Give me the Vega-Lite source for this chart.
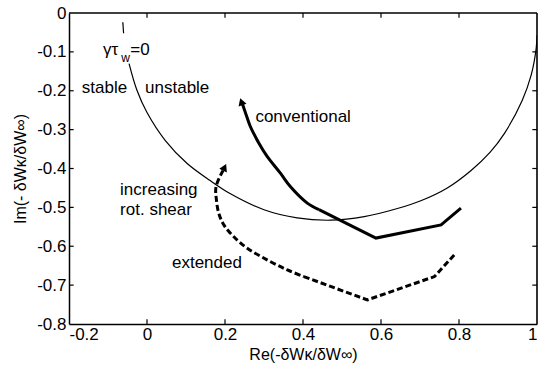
{
  "$schema": "https://vega.github.io/schema/vega-lite/v6.json",
  "width": 468,
  "height": 311,
  "autosize": "none",
  "padding": {"left": 69, "top": 13, "right": 1, "bottom": 50},
  "config": {
    "view": {"stroke": null},
    "font": "Liberation Sans",
    "axis": {
      "domainColor": "black",
      "domainWidth": 1.5,
      "ticks": false,
      "grid": false,
      "labelOverlap": false,
      "labelColor": "black",
      "labelFont": "Liberation Sans",
      "labelFontSize": 17,
      "titleColor": "black",
      "titleFont": "Liberation Sans",
      "titleFontSize": 16,
      "titleFontWeight": "normal"
    }
  },
  "datasets": {
    "circle": [
      {"x": -0.046, "y": -0.130},
      {"x": -0.026, "y": -0.198},
      {"x": 0.0, "y": -0.256},
      {"x": 0.047, "y": -0.328},
      {"x": 0.103, "y": -0.387},
      {"x": 0.162, "y": -0.431},
      {"x": 0.214, "y": -0.465},
      {"x": 0.3, "y": -0.506},
      {"x": 0.385, "y": -0.527},
      {"x": 0.471, "y": -0.533},
      {"x": 0.557, "y": -0.524},
      {"x": 0.642, "y": -0.503},
      {"x": 0.702, "y": -0.483},
      {"x": 0.77, "y": -0.450},
      {"x": 0.831, "y": -0.405},
      {"x": 0.880, "y": -0.358},
      {"x": 0.917, "y": -0.309},
      {"x": 0.962, "y": -0.225},
      {"x": 0.985, "y": -0.160},
      {"x": 0.998, "y": -0.090},
      {"x": 1.0, "y": -0.057}
    ],
    "conv": [
      {"i": 1, "part": "a", "x": 0.245, "y": -0.235},
      {"i": 2, "part": "a", "x": 0.252, "y": -0.255},
      {"i": 3, "part": "a", "x": 0.265, "y": -0.292},
      {"i": 4, "part": "a", "x": 0.287, "y": -0.335},
      {"i": 5, "part": "a", "x": 0.308, "y": -0.369},
      {"i": 6, "part": "a", "x": 0.342, "y": -0.412},
      {"i": 7, "part": "a", "x": 0.368, "y": -0.447},
      {"i": 8, "part": "a", "x": 0.411, "y": -0.489},
      {"i": 9, "part": "a", "x": 0.441, "y": -0.506},
      {"i": 9, "part": "b", "x": 0.441, "y": -0.506},
      {"i": 10, "part": "b", "x": 0.587, "y": -0.579},
      {"i": 11, "part": "b", "x": 0.754, "y": -0.545},
      {"i": 12, "part": "b", "x": 0.805, "y": -0.502}
    ],
    "ext": [
      {"i": 1, "part": "a", "x": 0.195, "y": -0.405},
      {"i": 2, "part": "a", "x": 0.177, "y": -0.447},
      {"i": 3, "part": "a", "x": 0.178, "y": -0.481},
      {"i": 4, "part": "a", "x": 0.184, "y": -0.515},
      {"i": 5, "part": "a", "x": 0.197, "y": -0.545},
      {"i": 6, "part": "a", "x": 0.222, "y": -0.575},
      {"i": 7, "part": "a", "x": 0.257, "y": -0.605},
      {"i": 8, "part": "a", "x": 0.308, "y": -0.635},
      {"i": 9, "part": "a", "x": 0.36, "y": -0.661},
      {"i": 10, "part": "a", "x": 0.402, "y": -0.678},
      {"i": 10, "part": "b", "x": 0.402, "y": -0.678},
      {"i": 11, "part": "b", "x": 0.565, "y": -0.738},
      {"i": 12, "part": "b", "x": 0.737, "y": -0.678},
      {"i": 13, "part": "b", "x": 0.788, "y": -0.622}
    ],
    "arrows": [
      {"x": 0.242, "y": -0.228, "angle": -19},
      {"x": 0.199, "y": -0.397, "angle": 25}
    ],
    "mark1": [
      {"i": 1, "x": -0.062, "y": -0.024},
      {"i": 2, "x": -0.060, "y": -0.052}
    ],
    "frame": [
      {"x": -0.2, "x2": 1.0, "y": 0.0, "y2": 0.0},
      {"x": 1.0, "x2": 1.0, "y": -0.8, "y2": 0.0}
    ],
    "xticks": [
      {"v": 0.0}, {"v": 0.2}, {"v": 0.4}, {"v": 0.6}, {"v": 0.8}
    ],
    "yticks": [
      {"v": -0.7}, {"v": -0.6}, {"v": -0.5}, {"v": -0.4}, {"v": -0.3}, {"v": -0.2}, {"v": -0.1}
    ],
    "texts": [
      {"x": -0.167, "y": -0.193, "label": "stable", "size": 17},
      {"x": -0.005, "y": -0.193, "label": "unstable", "size": 17},
      {"x": 0.278, "y": -0.267, "label": "conventional", "size": 17},
      {"x": -0.069, "y": -0.455, "label": "increasing", "size": 17},
      {"x": -0.069, "y": -0.506, "label": "rot. shear", "size": 17},
      {"x": 0.064, "y": -0.643, "label": "extended", "size": 17},
      {"x": -0.113, "y": -0.095, "label": "γτ", "size": 17},
      {"x": -0.066, "y": -0.117, "label": "w", "size": 12},
      {"x": -0.043, "y": -0.095, "label": "=0", "size": 17}
    ]
  },
  "layer": [
    {
      "data": {"name": "circle"},
      "mark": {"type": "line", "color": "black", "strokeWidth": 1.2, "interpolate": "catmull-rom", "clip": true},
      "encoding": {
        "x": {
          "field": "x", "type": "quantitative",
          "scale": {"domain": [-0.2, 1.0], "nice": false, "zero": false},
          "axis": {
            "orient": "bottom",
            "values": [-0.2, 0, 0.2, 0.4, 0.6, 0.8, 1.0],
            "tickCount": 20,
            "labelExpr": "datum.value == 0 ? '0' : toString(round(datum.value*10)/10)",
            "labelPadding": 2,
            "title": "Re(-δWκ/δW∞)",
            "titlePadding": 4
          }
        },
        "y": {
          "field": "y", "type": "quantitative",
          "scale": {"domain": [-0.8, 0], "nice": false, "zero": false},
          "axis": {
            "orient": "left",
            "values": [-0.8, -0.7, -0.6, -0.5, -0.4, -0.3, -0.2, -0.1, 0],
            "tickCount": 20,
            "labelExpr": "datum.value == 0 ? '0' : toString(round(datum.value*10)/10)",
            "labelPadding": 3,
            "title": "Im(- δWκ/δW∞)",
            "titlePadding": 8
          }
        }
      }
    },
    {
      "data": {"name": "frame"},
      "mark": {"type": "rule", "color": "black", "strokeWidth": 1.6},
      "encoding": {
        "x": {"field": "x", "type": "quantitative"},
        "x2": {"field": "x2"},
        "y": {"field": "y", "type": "quantitative"},
        "y2": {"field": "y2"}
      }
    },
    {
      "data": {"name": "xticks"},
      "mark": {"type": "rule", "color": "black", "strokeWidth": 1.2},
      "encoding": {
        "x": {"field": "v", "type": "quantitative"},
        "y": {"datum": -0.8},
        "y2": {"datum": -0.788}
      }
    },
    {
      "data": {"name": "xticks"},
      "mark": {"type": "rule", "color": "black", "strokeWidth": 1.2},
      "encoding": {
        "x": {"field": "v", "type": "quantitative"},
        "y": {"datum": 0},
        "y2": {"datum": -0.012}
      }
    },
    {
      "data": {"name": "yticks"},
      "mark": {"type": "rule", "color": "black", "strokeWidth": 1.2},
      "encoding": {
        "y": {"field": "v", "type": "quantitative"},
        "x": {"datum": -0.2},
        "x2": {"datum": -0.188}
      }
    },
    {
      "data": {"name": "yticks"},
      "mark": {"type": "rule", "color": "black", "strokeWidth": 1.2},
      "encoding": {
        "y": {"field": "v", "type": "quantitative"},
        "x": {"datum": 1.0},
        "x2": {"datum": 0.988}
      }
    },
    {
      "data": {"name": "conv"},
      "mark": {"type": "line", "color": "black", "strokeWidth": 3, "interpolate": "catmull-rom"},
      "transform": [{"filter": "datum.part == 'a'"}],
      "encoding": {
        "x": {"field": "x", "type": "quantitative"},
        "y": {"field": "y", "type": "quantitative"},
        "order": {"field": "i"}
      }
    },
    {
      "data": {"name": "conv"},
      "mark": {"type": "line", "color": "black", "strokeWidth": 3, "strokeJoin": "miter"},
      "transform": [{"filter": "datum.part == 'b'"}],
      "encoding": {
        "x": {"field": "x", "type": "quantitative"},
        "y": {"field": "y", "type": "quantitative"},
        "order": {"field": "i"}
      }
    },
    {
      "data": {"name": "ext"},
      "mark": {"type": "line", "color": "black", "strokeWidth": 3, "strokeDash": [6, 3], "interpolate": "catmull-rom"},
      "transform": [{"filter": "datum.part == 'a'"}],
      "encoding": {
        "x": {"field": "x", "type": "quantitative"},
        "y": {"field": "y", "type": "quantitative"},
        "order": {"field": "i"}
      }
    },
    {
      "data": {"name": "ext"},
      "mark": {"type": "line", "color": "black", "strokeWidth": 3, "strokeDash": [6, 3]},
      "transform": [{"filter": "datum.part == 'b'"}],
      "encoding": {
        "x": {"field": "x", "type": "quantitative"},
        "y": {"field": "y", "type": "quantitative"},
        "order": {"field": "i"}
      }
    },
    {
      "data": {"name": "mark1"},
      "mark": {"type": "line", "color": "black", "strokeWidth": 1.2},
      "encoding": {
        "x": {"field": "x", "type": "quantitative"},
        "y": {"field": "y", "type": "quantitative"},
        "order": {"field": "i"}
      }
    },
    {
      "data": {"name": "arrows"},
      "mark": {"type": "point", "shape": "triangle-up", "filled": true, "color": "black", "opacity": 1, "size": 70},
      "encoding": {
        "x": {"field": "x", "type": "quantitative"},
        "y": {"field": "y", "type": "quantitative"},
        "angle": {"field": "angle", "type": "quantitative", "scale": null}
      }
    },
    {
      "data": {"name": "texts"},
      "mark": {"type": "text", "align": "left", "baseline": "middle", "color": "black", "font": "Liberation Sans"},
      "encoding": {
        "x": {"field": "x", "type": "quantitative"},
        "y": {"field": "y", "type": "quantitative"},
        "text": {"field": "label"},
        "size": {"field": "size", "type": "quantitative", "scale": null}
      }
    }
  ]
}
